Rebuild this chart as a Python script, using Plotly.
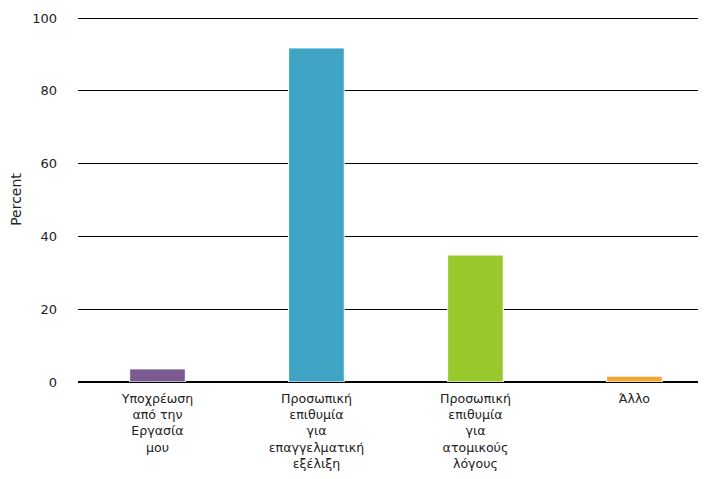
import plotly.graph_objects as go

categories = [
    "Υποχρέωση<br>από την<br>Εργασία<br>μου",
    "Προσωπική<br>επιθυμία<br>για<br>επαγγελματική<br>εξέλιξη",
    "Προσωπική<br>επιθυμία<br>για<br>ατομικούς<br>λόγους",
    "Άλλο",
]
values = [3.6, 91.8, 34.9, 1.6]
colors = ["#7B5A91", "#3FA3C4", "#98C82B", "#F2A530"]

fig = go.Figure(go.Bar(
    x=categories, y=values, marker_color=colors,
    marker_line_color="white", marker_line_width=1, width=0.35,
))
fig.update_layout(
    width=690, height=463,
    margin=dict(l=70, r=0, t=9, b=89),
    plot_bgcolor="white", paper_bgcolor="white",
    font=dict(family="DejaVu Sans", size=12, color="#222"),
    showlegend=False,
)
fig.update_yaxes(
    range=[0, 100.3], tickvals=[0, 20, 40, 60, 80, 100],
    showgrid=True, gridcolor="black", gridwidth=1,
    zeroline=True, zerolinecolor="black", zerolinewidth=2,
    title=dict(text="Percent", font=dict(size=14), standoff=14),
    tickfont=dict(size=13), ticklabelstandoff=20, automargin=False,
)
fig.update_xaxes(range=[-0.5, 3.4], tickfont=dict(size=12.6), showline=False,
                 automargin=False, ticklabelstandoff=7)
fig.write_html("out.html")
